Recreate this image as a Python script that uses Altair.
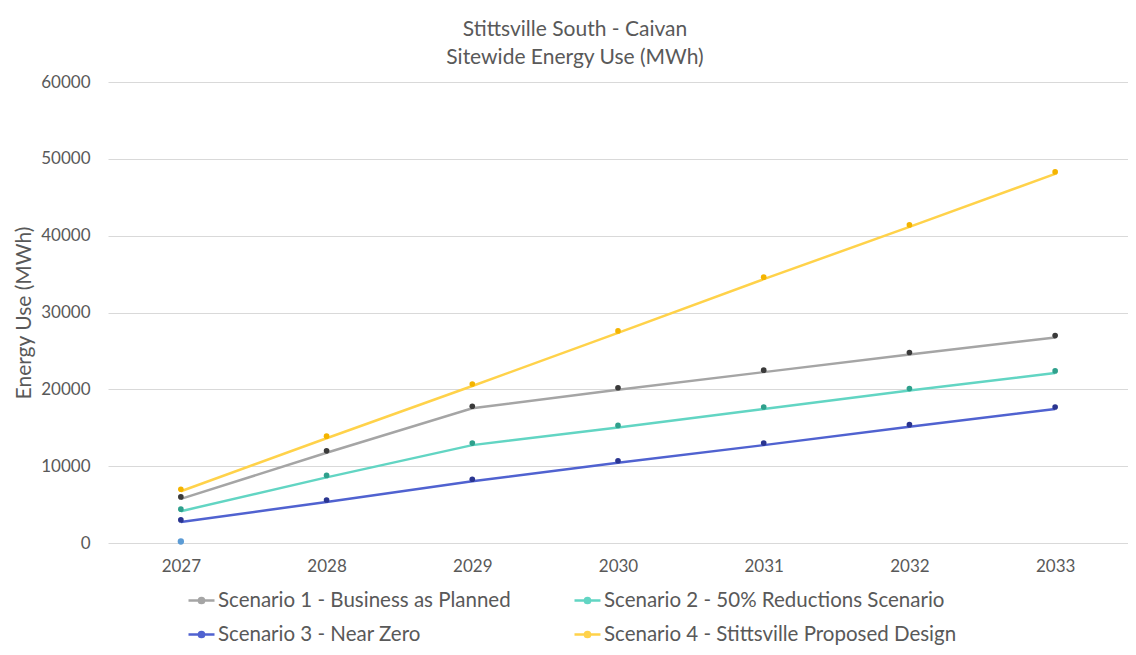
import altair as alt
import pandas as pd

years = ["2027", "2028", "2029", "2030", "2031", "2032", "2033"]
names = [
    "Scenario 1 - Business as Planned",
    "Scenario 2 - 50% Reductions Scenario",
    "Scenario 3 - Near Zero",
    "Scenario 4 - Stittsville Proposed Design",
]
s1 = [6000, 12000, 17800, 20200, 22500, 24800, 27000]
s2 = [4400, 8800, 13000, 15300, 17700, 20100, 22400]
s3 = [3000, 5600, 8300, 10700, 13000, 15400, 17700]
s4 = [7000, 13900, 20700, 27600, 34600, 41400, 48300]
stray_year = ["2027"]
stray_val = [200]

line_colors = ["#A5A5A5", "#62D5C3", "#5062D0", "#FFD24A"]
dot_colors = ["#3A3A3A", "#2FA08C", "#2A3590", "#F4B400"]

rows = []
for n, vals in zip(names, [s1, s2, s3, s4]):
    for y, v in zip(years, vals):
        rows.append({"Year": y, "Value": v, "Scenario": n})
df = pd.DataFrame(rows)
stray = pd.DataFrame({"Year": stray_year, "Value": stray_val})

FONT = "Lato"
TXT = "#595959"

x = alt.X("Year:O", title=None, sort=years,
          axis=alt.Axis(labelAngle=0, ticks=False, domain=False, grid=False,
                        labelFontSize=17, labelColor=TXT, labelPadding=15, labelFont=FONT))
y = alt.Y("Value:Q", title="Energy Use (MWh)",
          scale=alt.Scale(domain=[0, 60000], nice=False),
          axis=alt.Axis(values=[0, 10000, 20000, 30000, 40000, 50000, 60000], format="d",
                        ticks=False, domain=False, gridColor="#D9D9D9", gridWidth=1,
                        labelFontSize=17, labelColor=TXT, labelPadding=18, labelFont=FONT,
                        titleFontSize=21, titleColor=TXT, titleFont=FONT, titleFontWeight="normal",
                        titlePadding=6))

lines = alt.Chart(df).mark_line(strokeWidth=2.5, yOffset=2).encode(
    x=x, y=y,
    color=alt.Color("Scenario:N", sort=names,
                    scale=alt.Scale(domain=names, range=line_colors),
                    legend=alt.Legend(title=None, orient="none", legendX=79, legendY=504,
                                      columns=2, direction="horizontal", gridAlign="each",
                                      columnPadding=58, rowPadding=9, labelLimit=600,
                                      labelFontSize=20.5, labelColor=TXT, labelFont=FONT,
                                      labelOffset=2,
                                      symbolType="M-1,0H1M-0.2,0a0.2,0.2 0 1,0 0.4,0a0.2,0.2 0 1,0 -0.4,0",
                                      symbolSize=676, symbolStrokeWidth=2.5)),
)
dots = alt.Chart(df).mark_point(filled=True, size=32, opacity=1).encode(
    x=x, y=y,
    fill=alt.Fill("Scenario:N", scale=alt.Scale(domain=names, range=dot_colors), legend=None),
)
stray_pt = alt.Chart(stray).mark_point(filled=True, size=40, opacity=1, color="#5B9BD5").encode(
    x=x, y=y,
)

chart = alt.layer(lines, dots, stray_pt).resolve_scale(color="independent", fill="independent").properties(
    width=1020, height=461,
    autosize=alt.AutoSizeParams(type="none"),
    padding={"left": 100, "top": 74, "right": 0, "bottom": 104},
    title=alt.Title(["Stittsville South - Caivan", "Sitewide Energy Use (MWh)"],
                    fontSize=21, font=FONT, color=TXT, fontWeight="normal",
                    lineHeight=28, offset=5, dx=-43, anchor="middle"),
).configure_view(stroke=None)

chart.save("out.html", embed_options={"renderer": "svg", "actions": False})
